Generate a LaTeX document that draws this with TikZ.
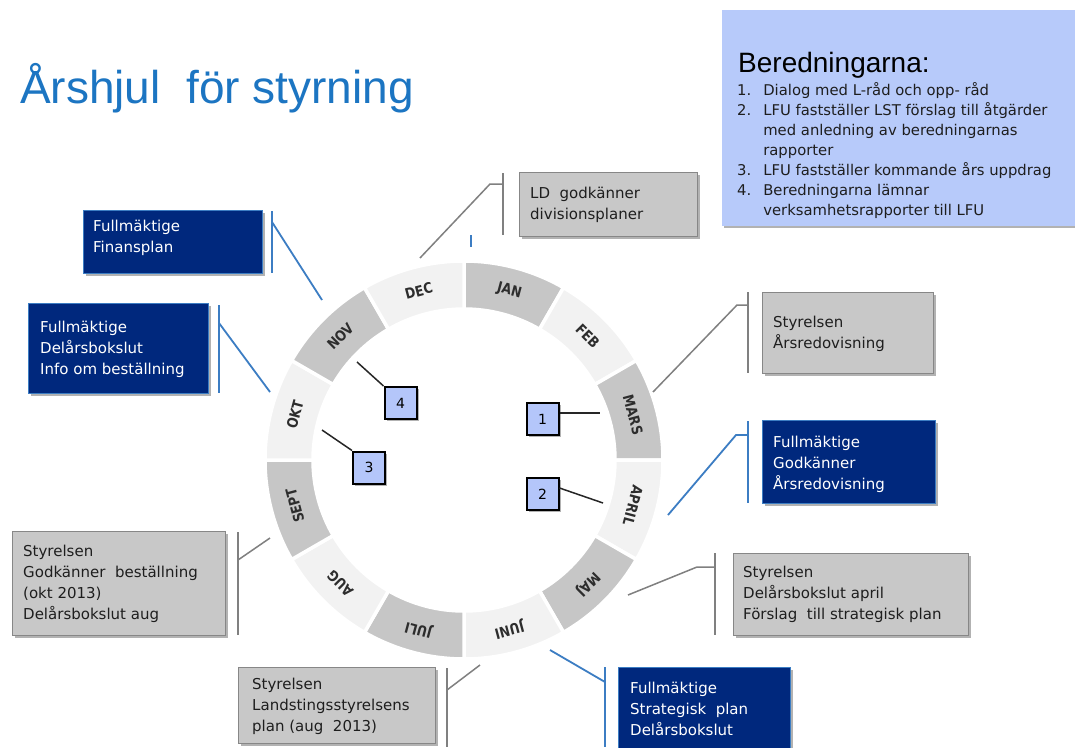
\documentclass[tikz,border=0pt]{standalone}
\usepackage{fontspec}
\setmainfont{DejaVu Sans}
\newfontfamily\arialf{Liberation Sans}
\newfontfamily\monthf[FakeStretch=0.86]{DejaVu Sans}
\usetikzlibrary{shadows}
\definecolor{titleblue}{RGB}{28,117,194}
\definecolor{berfill}{RGB}{183,202,250}
\definecolor{navy}{RGB}{0,40,125}
\definecolor{boxgray}{RGB}{200,200,200}
\definecolor{gbord}{RGB}{135,135,135}
\definecolor{segdark}{RGB}{198,198,198}
\definecolor{seglight}{RGB}{242,242,242}
\definecolor{lineblue}{RGB}{60,125,195}
\definecolor{linegray}{RGB}{128,128,128}
\definecolor{numfill}{RGB}{180,198,250}
\definecolor{textdark}{RGB}{30,30,30}
\definecolor{monthtext}{RGB}{45,45,45}
\newcommand\mylines[1]{\begin{tabular}[t]{@{}l@{}}#1\end{tabular}}
\tikzset{
  shad/.style={drop shadow={shadow xshift=2pt,shadow yshift=-2pt,opacity=0.3,fill=black}},
  graybox/.style={draw=gbord,fill=boxgray,line width=1.2pt,inner sep=0pt,anchor=north west,shad},
  bluebox/.style={draw=lineblue,fill=navy,line width=1pt,inner sep=0pt,anchor=north west,shad},
  berbox/.style={fill=berfill,inner sep=0pt,anchor=north west,shad},
  btxt/.style={font=\fontsize{15}{21}\selectfont,inner sep=0pt,anchor=base west,text=textdark},
  wtxt/.style={btxt,text=white},
  gline/.style={draw=linegray,line width=1.5pt},
  bline/.style={draw=lineblue,line width=1.8pt},
  numbox/.style={draw=black,fill=numfill,line width=2pt,minimum width=32pt,minimum height=32pt,inner sep=0pt,font=\fontsize{14}{14}\selectfont,shad},
  numline/.style={draw=black!85,line width=1.5pt},
  month/.style={font=\monthf\bfseries\fontsize{14.5}{14.5}\selectfont,text=monthtext,inner sep=0pt},
}
\begin{document}
\begin{tikzpicture}[x=1pt,y=-1pt]
\path[use as bounding box] (0,0) rectangle (1075,747);
\fill[white] (0,0) rectangle (1075,747);

% title
\node[anchor=base west,inner sep=0pt,font=\arialf\fontsize{46}{46}\selectfont,text=titleblue] (title) at (20,103) {Årshjul\ \ för styrning};

% Beredningarna
\node[berbox,minimum width=356pt,minimum height=216pt] (ber) at (722,10) {};
\node[anchor=base west,inner sep=0pt,font=\arialf\fontsize{28}{28}\selectfont,text=black] (bertitle) at (738,72) {Beredningarna:};
\node[anchor=base west,inner sep=0pt,font=\fontsize{14.8}{20}\selectfont,text=textdark] (berlist) at (737,95) {\begin{tabular}[t]{@{}l@{\hspace{12pt}}l@{}}1. & Dialog med L-råd och opp- råd\\ 2. & LFU fastställer LST förslag till åtgärder\\ & med anledning av beredningarnas\\ & rapporter\\ 3. & LFU fastställer kommande års uppdrag\\ 4. & Beredningarna lämnar\\ & verksamhetsrapporter till LFU\end{tabular}};

% wheel
\begin{scope}[shift={(464,460)},y=1pt]
\foreach \i/\m/\c in {0/JAN/segdark,1/FEB/seglight,2/MARS/segdark,3/APRIL/seglight,4/MAJ/segdark,5/JUNI/seglight,6/JULI/segdark,7/AUG/seglight,8/SEPT/segdark,9/OKT/seglight,10/NOV/segdark,11/DEC/seglight}{
  \pgfmathsetmacro\angA{90-30*\i}
  \pgfmathsetmacro\angB{\angA-30}
  \pgfmathsetmacro\angM{\angA-15}
  \pgfmathsetmacro\angR{\angA-105}
  \filldraw[fill=\c,draw=white,line width=3.5pt] (\angA:151pt) arc[start angle=\angA,end angle=\angB,radius=151pt] -- (\angB:199pt) arc[start angle=\angB,end angle=\angA,radius=199pt] -- cycle;
  \node[month,rotate=\angR] (m\i) at (\angM:175pt) {\m};
}
\end{scope}

% small blue tick
\coordinate (tk1) at (471,235); \coordinate (tk2) at (471,247);
\draw[draw=lineblue,line width=1.5pt] (tk1) -- (tk2);

% number boxes
\node[numbox] (n4) at (400.5,403) {4};
\node[numbox] (n3) at (369,467.5) {3};
\node[numbox] (n1) at (542.5,419) {1};
\node[numbox] (n2) at (542.5,494) {2};
\coordinate (p4) at (357,362); \coordinate (p3) at (322,430);
\coordinate (p1) at (600,413); \coordinate (p2) at (603,503);
\draw[numline] (p4) -- (n4.north west);
\draw[numline] (p3) -- (n3.north west);
\draw[numline] (n1.east |- p1) -- (p1);
\draw[numline] (n2.east |- 0,488) -- (p2);

% LD godkänner
\node[graybox,minimum width=178pt,minimum height=64pt] (ld) at (519,172) {};
\node[btxt] (ldt) at (530,198) {\mylines{LD\ \ godkänner\\divisionsplaner}};
\coordinate (ldb1) at (503,173); \coordinate (ldb2) at (503,235);
\coordinate (ldk) at (490,184); \coordinate (ldp) at (420,258);
\draw[gline] (ldb1) -- (ldb2);
\draw[gline] (ldb1 |- ldk) -- (ldk) -- (ldp);

% Fullmäktige Finansplan
\node[bluebox,minimum width=179pt,minimum height=63pt] (fin) at (83,210) {};
\node[wtxt] (fint) at (93,231) {\mylines{Fullmäktige\\Finansplan}};
\coordinate (finb1) at (272,211); \coordinate (finb2) at (272,273);
\coordinate (finp) at (322,300);
\draw[bline] (finb1) -- (finb2);
\draw[bline] (272,222) -- (finp);

% Fullmäktige Delårsbokslut Info
\node[bluebox,minimum width=180pt,minimum height=90pt] (del) at (28,303) {};
\node[wtxt] (delt) at (40,332) {\mylines{Fullmäktige\\Delårsbokslut\\Info om beställning}};
\coordinate (delb1) at (219,305); \coordinate (delb2) at (219,393);
\coordinate (delp) at (270,392);
\draw[bline] (delb1) -- (delb2);
\draw[bline] (219,323) -- (delp);

% Styrelsen Godkänner beställning
\node[graybox,minimum width=213pt,minimum height=104pt] (best) at (12,531) {};
\node[btxt] (bestt) at (23,556) {\mylines{Styrelsen\\Godkänner\ \ beställning\\(okt 2013)\\Delårsbokslut aug}};
\coordinate (bestb1) at (238,532); \coordinate (bestb2) at (238,635);
\coordinate (bestp) at (270,538);
\draw[gline] (bestb1) -- (bestb2);
\draw[gline] (238,560) -- (bestp);

% Landstingsstyrelsens plan
\node[graybox,minimum width=197pt,minimum height=76pt] (lst) at (238,667) {};
\node[btxt] (lstt) at (252,689) {\mylines{Styrelsen\\Landstingsstyrelsens\\plan (aug\ \ 2013)}};
\coordinate (lstb1) at (447,668); \coordinate (lstb2) at (447,747);
\coordinate (lstp) at (480,665);
\draw[gline] (lstb1) -- (lstb2);
\draw[gline] (447,690) -- (lstp);

% Fullmäktige Strategisk plan
\node[bluebox,minimum width=172pt,minimum height=90pt] (strat) at (618,667) {};
\node[wtxt] (stratt) at (630,693) {\mylines{Fullmäktige\\Strategisk\ \ plan\\Delårsbokslut}};
\coordinate (stratb1) at (605,667); \coordinate (stratb2) at (605,747);
\coordinate (stratp) at (550,650);
\draw[bline] (stratb1) -- (stratb2);
\draw[bline] (605,682) -- (stratp);

% Styrelsen Delårsbokslut april
\node[graybox,minimum width=235pt,minimum height=82pt] (apr) at (733,553) {};
\node[btxt] (aprt) at (743,577) {\mylines{Styrelsen\\Delårsbokslut april\\Förslag\ \ till strategisk plan}};
\coordinate (aprb1) at (715,553); \coordinate (aprb2) at (715,635);
\coordinate (aprk) at (697,567); \coordinate (aprp) at (628,595);
\draw[gline] (aprb1) -- (aprb2);
\draw[gline] (aprb1 |- aprk) -- (aprk) -- (aprp);

% Styrelsen Årsredovisning
\node[graybox,minimum width=171pt,minimum height=81pt] (ars) at (762,292) {};
\node[btxt] (arst) at (773,327) {\mylines{Styrelsen\\Årsredovisning}};
\coordinate (arsb1) at (748,292); \coordinate (arsb2) at (748,373);
\coordinate (arsk) at (737,305); \coordinate (arsp) at (653,392);
\draw[gline] (arsb1) -- (arsb2);
\draw[gline] (arsb1 |- arsk) -- (arsk) -- (arsp);

% Fullmäktige Godkänner Årsredovisning
\node[bluebox,minimum width=173pt,minimum height=83pt] (fgod) at (762,420) {};
\node[wtxt] (fgodt) at (773,447) {\mylines{Fullmäktige\\Godkänner\\Årsredovisning}};
\coordinate (fgodb1) at (748,421); \coordinate (fgodb2) at (748,503);
\coordinate (fgodk) at (736,435); \coordinate (fgodp) at (668,515);
\draw[bline] (fgodb1) -- (fgodb2);
\draw[bline] (fgodb1 |- fgodk) -- (fgodk) -- (fgodp);
\end{tikzpicture}
\end{document}
